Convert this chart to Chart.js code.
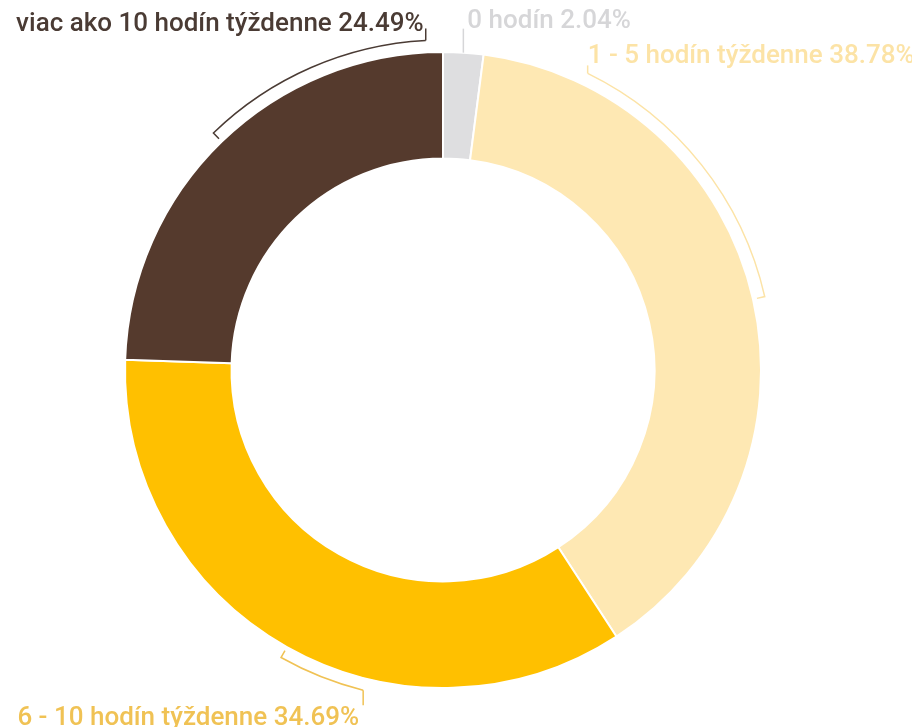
<!DOCTYPE html>
<html>
<head>
<meta charset="utf-8">
<script src="https://cdn.jsdelivr.net/npm/chart.js@4"></script>
<style>
  html, body { margin: 0; padding: 0; background: #fff; }
  #wrap { width: 912px; height: 727px; position: relative; }
</style>
</head>
<body>
<div id="wrap"><canvas id="hoursChart"></canvas></div>
<script>
// data
const categories = ['0 hodín', '1 - 5 hodín týždenne', '6 - 10 hodín týždenne', 'viac ako 10 hodín týždenne'];
const shares = [2.04, 38.78, 34.69, 24.49];

const sliceColors = ['#DEDEE0', '#FEE8B3', '#FFC000', '#553A2D'];
const labelColors = ['#D6D6D8', '#FCE3A6', '#F0C254', '#4A3B34'];

// where each callout ends (degrees clockwise from top) and how its text sits
const calloutStyle = [
  { toDeg: null, tick: -24, align: 'left',  dx: 4,  dy: -1 },
  { toDeg: 26,   tick: -8,  align: 'left',  dx: 0,  dy: -2 },
  { toDeg: 194,  tick: 15,  align: 'right', dx: -4, dy: 20 },
  { toDeg: 357,  tick: -12, align: 'right', dx: -2, dy: 3 }
];

function toRad(deg) {
  return deg * Math.PI / 180 - Math.PI / 2;
}

const calloutPlugin = {
  id: 'callouts',
  afterDatasetsDraw(chart) {
    const ctx = chart.ctx;
    const arcs = chart.getDatasetMeta(0).data;
    ctx.save();
    ctx.font = '500 26px Roboto';
    ctx.lineWidth = 1.5;
    arcs.forEach((arc, i) => {
      const st = calloutStyle[i];
      const cx = arc.x, cy = arc.y;
      const R = arc.outerRadius;
      const mid = (arc.startAngle + arc.endAngle) / 2;
      ctx.strokeStyle = labelColors[i];
      ctx.fillStyle = labelColors[i];
      let ex, ey;
      if (st.toDeg === null) {
        // plain tick straight out of the thin slice
        ex = cx + R * Math.cos(mid);
        ey = cy + R * Math.sin(mid);
      } else {
        const rb = R + 12;
        const end = toRad(st.toDeg);
        ctx.beginPath();
        ctx.moveTo(cx + (R + 4) * Math.cos(mid), cy + (R + 4) * Math.sin(mid));
        ctx.lineTo(cx + rb * Math.cos(mid), cy + rb * Math.sin(mid));
        ctx.arc(cx, cy, rb, mid, end, end < mid);
        ctx.stroke();
        ex = cx + rb * Math.cos(end);
        ey = cy + rb * Math.sin(end);
      }
      ctx.beginPath();
      ctx.moveTo(ex, ey);
      ctx.lineTo(ex, ey + st.tick);
      ctx.stroke();
      ctx.textAlign = st.align;
      ctx.textBaseline = 'alphabetic';
      ctx.fillText(categories[i] + ' ' + shares[i].toFixed(2) + '%', ex + st.dx, ey + st.tick + st.dy);
    });
    ctx.restore();
  }
};

new Chart(document.getElementById('hoursChart'), {
  type: 'doughnut',
  data: {
    labels: categories,
    datasets: [{
      data: shares,
      backgroundColor: sliceColors,
      borderColor: '#ffffff',
      borderWidth: 2
    }]
  },
  options: {
    responsive: true,
    maintainAspectRatio: false,
    animation: false,
    cutout: '66.5%',
    layout: { padding: { left: 124, right: 150, top: 51, bottom: 38 } },
    plugins: {
      legend: { display: false },
      tooltip: { enabled: false }
    }
  },
  plugins: [calloutPlugin]
});
</script>
</body>
</html>
